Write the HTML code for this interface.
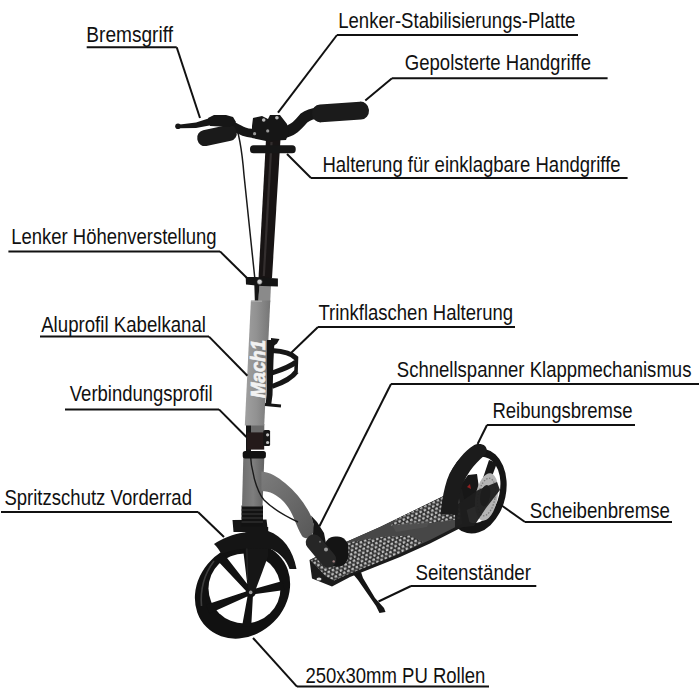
<!DOCTYPE html>
<html><head><meta charset="utf-8"><style>
html,body{margin:0;padding:0;background:#fff;width:700px;height:700px;overflow:hidden}
svg{display:block}
.lab text{font-family:"Liberation Sans",sans-serif;font-size:22.6px;fill:#111}
.lab line{stroke:#111;stroke-width:2}
</style></head><body>
<svg width="700" height="700" viewBox="0 0 700 700">
<g id="scooter">
<defs>
<linearGradient id="gt" x1="0" x2="1" y1="0" y2="0">
<stop offset="0" stop-color="#a0a0a0"/><stop offset="0.45" stop-color="#929292"/><stop offset="1" stop-color="#767676"/>
</linearGradient>
<linearGradient id="gh" x1="0" x2="1" y1="0" y2="0">
<stop offset="0" stop-color="#6e6e6e"/><stop offset="0.5" stop-color="#7e7e7e"/><stop offset="1" stop-color="#626262"/>
</linearGradient>
<linearGradient id="gd" x1="0" x2="1" y1="0" y2="1">
<stop offset="0" stop-color="#7c7c7c"/><stop offset="1" stop-color="#575757"/>
</linearGradient>
<pattern id="mesh" width="4.6" height="7" patternUnits="userSpaceOnUse" patternTransform="rotate(-24)">
<rect width="4.6" height="7" fill="#333"/>
<ellipse cx="1.15" cy="1.75" rx="1.5" ry="1.35" fill="#c2c2c2"/>
<ellipse cx="3.45" cy="5.25" rx="1.5" ry="1.35" fill="#c2c2c2"/>
</pattern>
</defs>
<!-- ===== rear wheel tire ===== -->
<g transform="rotate(12 476 491)">
<ellipse cx="476" cy="491" rx="30" ry="43" fill="#151515"/>
<ellipse cx="478" cy="489.5" rx="21.5" ry="33.5" fill="#fff"/>
</g>
<!-- rear spokes / hub -->
<path d="M460,486 L468,475 L477,474 L479,488 L476,506 L462,512 Z" fill="#171717"/>
<path d="M483,478 L489,460 L497,463 L491,479 Z" fill="#171717"/>
<!-- disc -->
<g transform="rotate(10 486.5 497)">
<ellipse cx="486.5" cy="497" rx="11" ry="24" fill="#b4b4b4"/>
<ellipse cx="486.5" cy="497" rx="8.5" ry="19" fill="none" stroke="#7a7a7a" stroke-width="1.3" stroke-dasharray="1.4 1.6"/>
<ellipse cx="485" cy="496" rx="5" ry="11" fill="#202020"/>
</g>
<path d="M467,487 L470,484 L471,489 Z" fill="#902020"/>
<!-- ===== deck ===== -->
<path d="M309.5,560 L312,578.5 L332,586.5 L350,577 L400,557 L430,543.5 L460,528.2 L470,524.5 L462,489 L458,489 L441,497.3 L380,527 L346,542 Z" fill="#1c1c1c"/>
<path d="M310,560 L346,542 L380,527 L441,497.3 L458,489 L462,524 L460,524.7 L430,540 L400,553.5 L350,573.5 L334,580.5 L326,576.5 Z" fill="#474747"/>
<path d="M311,560.5 L346,543 L380,537 L410,535.5 L423,542 L400,553.5 L350,573.5 L334,580.5 L326,576.5 Z" fill="url(#mesh)"/>
<path d="M395,520 L441,497.8 L456,490.5 L461,519 L430,523 L391,525.5 Z" fill="url(#mesh)"/>
<path d="M392,525 L430,520 L427,527 L396,532 Z" fill="#555" opacity="0.6"/>
<ellipse cx="319" cy="579" rx="2.5" ry="1.6" fill="#ddd"/>
<!-- rear plate -->
<path d="M455,506 L478,490 L497,482 L500,490 L486,508 L474,526 L455,528 Z" fill="#1e1e1e" opacity="0.95"/>
<!-- rear fender -->
<path d="M440.5,514 C442,500 444,489 447,480 C450,471 455,464 460,458 C465,452 469,448 473.5,445.5 C477,443.5 482,443.5 485,446 C487.5,448.5 487,452 485,455 C479,460 474,465 470,471 C465,478 462,485 460.5,491 C458.5,499 458,507 457.5,515 Z" fill="#1b1b1b"/>
<!-- kickstand -->
<path d="M353,574 L361,572 L363,578 L375,598 L384,608 L385.5,612 L379.5,613 L376,606 L358,580 Z" fill="#151515"/>
<!-- ===== front wheel ===== -->
<g transform="rotate(-45 242.5 591)">
<ellipse cx="242.5" cy="591" rx="51" ry="44" fill="#111"/>
</g>
<ellipse cx="244.5" cy="588.5" rx="36" ry="35" fill="#fff"/>
<path d="M214,561 C205,573 200,588 201.5,606" stroke="#4a4a4a" stroke-width="1.6" fill="none" opacity="0.8"/>
<path d="M224.5,554.7 L217.6,560.7 L248.9,594.0 L252.5,590.8 Z M206.0,604.8 L209.4,613.4 L251.6,594.6 L249.8,590.2 Z M242.1,625.9 L251.2,627.0 L253.1,592.7 L248.3,592.1 Z M284.4,589.9 L282.5,580.9 L250.2,590.1 L251.2,594.7 Z M252.4,549.7 L243.2,550.3 L248.3,592.6 L253.1,592.2 Z" fill="#111"/>
<circle cx="250.7" cy="592.4" r="5" fill="#111"/>
<!-- fork -->
<path d="M245.4,527 L268.2,527 L268.2,556 L255.5,590 L248.6,593 L245.4,556 Z" fill="#161616"/>
<path d="M246.5,531 L247.5,580" stroke="#2c2c2c" stroke-width="1"/>
<path d="M253,539 L264,538" stroke="#2a2a2a" stroke-width="1"/>
<circle cx="250.7" cy="592.4" r="1.8" fill="#999"/>
<!-- front fender -->
<path d="M214,544 C222,538.5 232,534.5 244,532.5 L268,531 C283,536 293,550 296.5,569 L289.5,569 C286.5,560 280,553 271,549 L246,548.5 C237,549 229,551 221.5,554 C219.5,550.5 217,547 214,544 Z" fill="#151515"/>
<path d="M232.5,520 L266.5,519.5 L268,532 L233.5,532 Z" fill="#151515"/>
<!-- ===== bellows & head tube ===== -->
<rect x="241.5" y="505.5" width="21.5" height="21" fill="#121212"/>
<path d="M241.5,510 H263 M241.5,514 H263 M241.5,518 H263 M241.5,522 H263" stroke="#3a3a3a" stroke-width="1"/>
<path d="M243.3,457.5 L264.3,457.5 L262.5,506.5 L242,506.5 Z" fill="url(#gh)"/>
<!-- down tube -->
<path d="M261.4,471.4 C270,472 278,477 285,483 C295,491 303,501 309,512 C313,519 315,527 313,533 C311,538 305,540 302,536 C299,531 297,526 295,521 C292,513 288,506 283,501 C277,495 270,491 261.4,491 Z" fill="url(#gd)"/>
<!-- cable lower -->
<path d="M250,451 C251,470 256,490 264,500 C272,508 285,516 298,522" stroke="#1a1a1a" stroke-width="1.4" fill="none"/>
<!-- fold mechanism -->
<path d="M311,515.5 L317,522 L324,533 L326.5,546 L320,550 L311,543 L308.5,538.5 L313,534 L313.5,524 Z" fill="#161616"/>
<rect x="324.3" y="536.6" width="24" height="30" rx="11" fill="#141414"/>
<g transform="rotate(50 321 551)"><rect x="302" y="543" width="38" height="16" rx="7.5" fill="#262626"/></g>
<circle cx="326" cy="549.4" r="2" fill="#9a9a9a"/>
<circle cx="320" cy="541.7" r="1" fill="#777"/>
<circle cx="333.7" cy="561.4" r="1.2" fill="#a08080"/>
<!-- ring & lower clamp -->
<rect x="242.7" y="451" width="23.2" height="7.5" rx="2.5" fill="#111"/>
<rect x="247.9" y="424" width="16.4" height="9.5" fill="#6a6a6a"/>
<rect x="246" y="424.5" width="5" height="27" fill="#151515"/>
<rect x="247" y="432.4" width="17.2" height="17.2" fill="#241a1a"/>
<rect x="263.3" y="429.9" width="6.8" height="16.2" rx="1.5" fill="#161616"/>
<circle cx="267.6" cy="434.8" r="1.6" fill="#c4c4c4"/>
<circle cx="267.6" cy="442.5" r="1.6" fill="#c4c4c4"/>
<!-- ===== gray upper tube ===== -->
<path d="M259.3,285 L271,285 L270.2,302 L258.2,302 Z" fill="#8a8a8a"/>
<path d="M250.9,300.5 L270.3,300.5 L264.2,425.5 L244.8,425.5 Z" fill="url(#gt)"/>
<path d="M251,301.2 L262,301.2" stroke="#b0b0b0" stroke-width="1"/>
<path d="M254.3,284 L259.5,284 L258.3,300.5 L254.8,300.5 Z" fill="#161616"/>
<text transform="translate(265,398) rotate(-90)" font-family="Liberation Sans, sans-serif" font-weight="bold" font-style="italic" font-size="19.5" fill="#f2f2f2" stroke="#f2f2f2" stroke-width="0.7" textLength="58" lengthAdjust="spacingAndGlyphs">Mach1</text>
<!-- bottle cage -->
<path d="M267,340 L274.5,340 L273.5,360 L272.5,395 L271,406 L265.5,406 L266.5,395 Z" fill="#161616"/>
<path d="M271,338 L279.5,339 L277,343.5 L273.5,346 L271,344 Z" fill="#161616"/>
<path d="M272,350.5 C283,351 292,353.5 296.5,358.5" stroke="#161616" stroke-width="5" fill="none"/>
<path d="M296.5,357 L296,372" stroke="#161616" stroke-width="3.6" fill="none"/>
<path d="M296,362 C290,367 281,370 272,373" stroke="#161616" stroke-width="5" fill="none"/>
<path d="M296.5,371.5 C292,378 282,383 272,386.5" stroke="#161616" stroke-width="5" fill="none"/>
<path d="M265,404.5 L281,406" stroke="#161616" stroke-width="3" fill="none"/>
<!-- ===== stem ===== -->
<path d="M266,139 L280.5,139 L272,278 L258.5,278 Z" fill="#181414"/>
<path d="M271.5,142 L263.8,276" stroke="#3a3535" stroke-width="2.2" opacity="0.8"/>
<!-- cable upper -->
<path d="M234,121 C239,132 242,150 244,175 L255,280" stroke="#1a1a1a" stroke-width="1.5" fill="none"/>
<!-- height clamp -->
<path d="M245.7,277 L256,277 L262,277.5 L277.9,278.5 L277.9,286.5 L262,286 L246,284.5 Z" fill="#141414"/>
<circle cx="259.6" cy="281.8" r="2.6" fill="#d0d0d0" stroke="#333" stroke-width="0.6"/>
<!-- holder clamp -->
<rect x="250" y="145.3" width="45.7" height="8" rx="3.5" fill="#161616"/>
<!-- ===== handlebar ===== -->
<path d="M281,133 C292,132 298,125 304,118 C308,115 312,113.5 318,113" stroke="#161616" stroke-width="11" fill="none"/>
<g transform="rotate(-4 340.5 112)"><rect x="312" y="103" width="57" height="18" rx="8.5" fill="#1b1b1b"/></g>
<path d="M254,133 C246,134 240,130 229,124" stroke="#161616" stroke-width="9" fill="none"/>
<path d="M252,126 L253,118 L262,116 L268,119 L270,115 L280,115 L287,124 L289,132 L286,140 L266,141 L252,138 Z" fill="#161616"/>
<circle cx="263.7" cy="120" r="1.8" fill="#bbb"/>
<circle cx="276.9" cy="117.7" r="1.8" fill="#bbb"/>
<circle cx="254.6" cy="133.7" r="1.6" fill="#999"/>
<circle cx="267.7" cy="130.9" r="1.6" fill="#999"/>
<g transform="rotate(-12 217 135.5)"><rect x="197" y="127.5" width="40" height="16" rx="7.5" fill="#1a1a1a"/></g>
<path d="M208,118 L214,115 L226,115 L233,117 L236,122 L230,127 L210,126 Z" fill="#161616"/>
<path d="M180,124.5 L196,122.5 L210,118 L212,125 L196,128 L180,128.2 Z" fill="#161616"/>
<circle cx="178" cy="126.3" r="2.8" fill="#161616"/>
</g><!--end-->

<g class="lab">
<text x="86.3" y="42.0" textLength="86.7" lengthAdjust="spacingAndGlyphs">Bremsgriff</text>
<line x1="86.7" y1="47.3" x2="176.7" y2="47.3"/>
<line x1="176.7" y1="47.3" x2="200" y2="118"/>
<text x="338.2" y="27.6" textLength="237.2" lengthAdjust="spacingAndGlyphs">Lenker-Stabilisierungs-Platte</text>
<line x1="337" y1="35" x2="578" y2="35"/>
<line x1="337" y1="35" x2="278" y2="112.7"/>
<text x="404.8" y="70.1" textLength="186.2" lengthAdjust="spacingAndGlyphs">Gepolsterte Handgriffe</text>
<line x1="392" y1="78.3" x2="607.6" y2="78.3"/>
<line x1="392" y1="78.3" x2="365.3" y2="100.4"/>
<text x="322.4" y="172.0" textLength="298.2" lengthAdjust="spacingAndGlyphs">Halterung für einklagbare Handgriffe</text>
<line x1="311" y1="178" x2="627.6" y2="178"/>
<line x1="311" y1="178" x2="287" y2="154"/>
<text x="11.2" y="243.6" textLength="205.4" lengthAdjust="spacingAndGlyphs">Lenker Höhenverstellung</text>
<line x1="8.4" y1="251.4" x2="220" y2="251.4"/>
<line x1="220" y1="251.4" x2="247" y2="278"/>
<text x="41.2" y="331.6" textLength="164.8" lengthAdjust="spacingAndGlyphs">Aluprofil Kabelkanal</text>
<line x1="40" y1="336.6" x2="209" y2="336.6"/>
<line x1="209" y1="336.6" x2="247.4" y2="375.8"/>
<text x="318.4" y="320.0" textLength="194.6" lengthAdjust="spacingAndGlyphs">Trinkflaschen Halterung</text>
<line x1="318" y1="327" x2="515" y2="327"/>
<line x1="318" y1="327" x2="291" y2="353"/>
<text x="396.8" y="377.2" textLength="294.6" lengthAdjust="spacingAndGlyphs">Schnellspanner Klappmechanismus</text>
<line x1="391" y1="384" x2="699" y2="384"/>
<line x1="391" y1="384" x2="319.4" y2="526.3"/>
<text x="492.4" y="417.6" textLength="140.2" lengthAdjust="spacingAndGlyphs">Reibungsbremse</text>
<line x1="487" y1="425" x2="635" y2="425"/>
<line x1="487" y1="425" x2="477.6" y2="444"/>
<text x="69.8" y="401.0" textLength="142.8" lengthAdjust="spacingAndGlyphs">Verbindungsprofil</text>
<line x1="65" y1="409.4" x2="219" y2="409.4"/>
<line x1="219" y1="409.4" x2="246.4" y2="437"/>
<text x="529.8" y="517.6" textLength="140.2" lengthAdjust="spacingAndGlyphs">Scheibenbremse</text>
<line x1="525" y1="522" x2="672" y2="522"/>
<line x1="525" y1="522" x2="501" y2="505"/>
<text x="4.4" y="504.6" textLength="187.6" lengthAdjust="spacingAndGlyphs">Spritzschutz Vorderrad</text>
<line x1="1" y1="512" x2="198" y2="512"/>
<line x1="198" y1="512" x2="224" y2="537"/>
<text x="415.4" y="580.2" textLength="115.6" lengthAdjust="spacingAndGlyphs">Seitenständer</text>
<line x1="411" y1="586" x2="536.3" y2="586"/>
<line x1="411" y1="586" x2="378.5" y2="601.5"/>
<text x="305.4" y="683.0" textLength="180.0" lengthAdjust="spacingAndGlyphs">250x30mm PU Rollen</text>
<line x1="297" y1="686.6" x2="489" y2="686.6"/>
<line x1="297" y1="686.6" x2="253" y2="638"/>
</g>
</svg>
</body></html>
